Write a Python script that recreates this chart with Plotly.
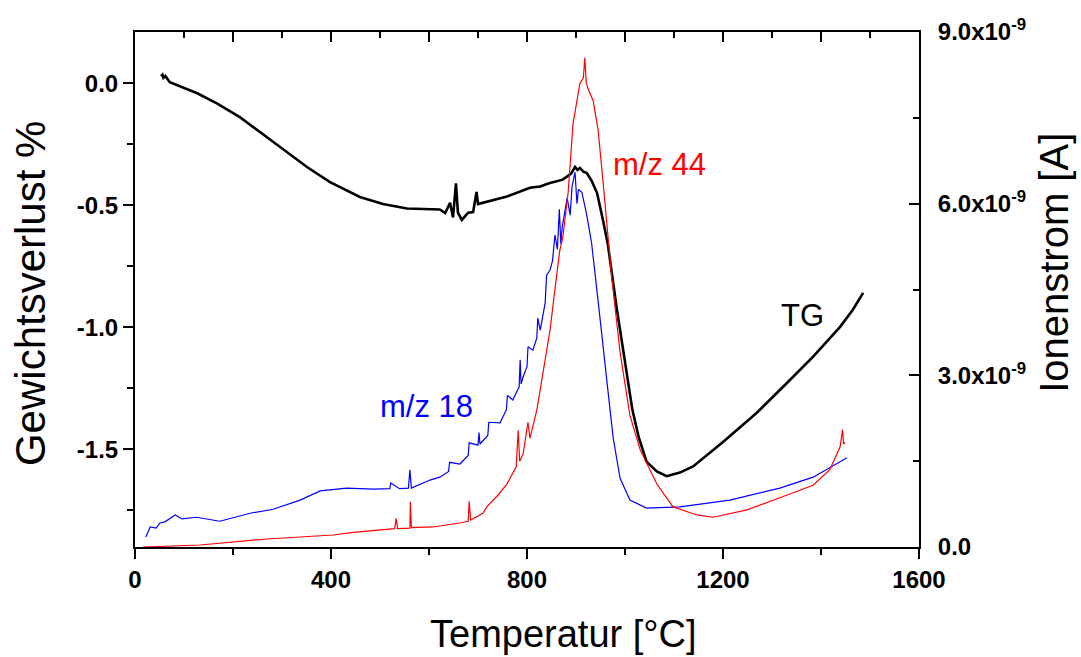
import plotly.graph_objects as go

# ---------------- data ----------------
tg_T = [53, 56, 58, 62, 71, 127, 167, 214, 255, 296, 351, 398, 418, 459, 506, 555, 622,
        633, 643, 649, 655, 659, 667, 680, 690, 697, 700, 739, 759, 806, 827, 845, 873,
        890, 898, 903, 908, 915, 922, 932, 943, 955, 965, 983, 1000, 1015, 1028, 1044,
        1065, 1085, 1112, 1139, 1200, 1269, 1331, 1384, 1439, 1465, 1486]
tg_V = [0.029, 0.035, 0.022, 0.030, 0.004, -0.041, -0.082, -0.139, -0.200, -0.260, -0.343,
        -0.405, -0.425, -0.466, -0.495, -0.513, -0.517,
        -0.532, -0.490, -0.550, -0.410, -0.530, -0.560, -0.530, -0.528, -0.445, -0.495,
        -0.474, -0.464, -0.428, -0.423, -0.410, -0.395,
        -0.370, -0.343, -0.355, -0.347, -0.362, -0.368, -0.400, -0.450, -0.560, -0.660,
        -0.920, -1.145, -1.337, -1.450, -1.550, -1.590, -1.610, -1.595, -1.570, -1.470,
        -1.350, -1.227, -1.120, -0.998, -0.928, -0.859]

ms18_T = [22, 31, 43, 51, 61, 82, 96, 126, 173, 235, 282, 337, 378, 432, 486, 520, 522,
          540, 558, 561, 564, 602, 622, 640, 642, 663, 680, 682, 700, 702, 704, 720, 722,
          745, 758, 760, 771, 784, 786, 788, 792, 800, 802, 812, 820, 822, 827, 837, 840,
          847, 852, 857, 862, 866, 869, 872, 882, 888, 892, 898, 902, 905, 912, 918, 922,
          932, 943, 949, 963, 976, 990, 1010, 1044, 1112, 1214, 1316, 1384, 1453]
ms18_I = [0.175, 0.35, 0.33, 0.42, 0.44, 0.56, 0.49, 0.52, 0.45, 0.59, 0.66, 0.82, 0.98,
          1.03, 1.01, 1.02, 1.12, 1.02, 1.03, 1.35, 1.03, 1.17, 1.22, 1.32, 1.48, 1.45,
          1.60, 1.82, 1.78, 2.00, 1.80, 1.95, 2.18, 2.17, 2.40, 2.65, 2.57, 2.80, 3.27,
          2.85, 2.97, 3.15, 3.50, 3.44, 3.65, 4.00, 3.79, 4.26, 4.75, 4.84, 5.00, 5.45,
          5.20, 5.90, 5.30, 5.60, 6.10, 5.80, 6.30, 6.55, 6.00, 6.25, 6.20, 5.95, 5.80,
          5.30, 4.50, 4.00, 2.90, 1.90, 1.20, 0.82, 0.68, 0.70, 0.82, 1.03, 1.22, 1.56]

ms44_T = [16, 133, 269, 404, 450, 506, 530, 533, 536, 561, 562, 564, 608, 663, 680, 682,
          685, 710, 718, 740, 759, 778, 782, 785, 792, 802, 806, 820, 833, 847, 857, 867,
          873, 884, 894, 908, 915, 918, 921, 925, 935, 945, 955, 963, 973, 990, 1010, 1031,
          1065, 1098, 1147, 1180, 1249, 1316, 1384, 1418, 1439, 1444, 1446, 1449]
ms44_I = [0.0, 0.035, 0.14, 0.21, 0.26, 0.30, 0.32, 0.50, 0.32, 0.33, 0.79, 0.34, 0.35,
          0.42, 0.45, 0.80, 0.47, 0.59, 0.70, 0.90, 1.10, 1.40, 2.04, 1.50, 1.62, 2.18,
          1.90, 2.39, 3.09, 3.79, 4.50, 5.19,
          5.40, 6.20, 7.40, 8.10, 8.20, 8.55, 8.10, 8.00, 7.80, 7.30, 6.40, 5.70, 4.70,
          3.40, 2.30, 1.70, 1.10, 0.70, 0.56, 0.52, 0.65, 0.86, 1.08, 1.35, 1.75, 2.05,
          1.80, 1.83]

x_ticks = [0, 400, 800, 1200, 1600]
x_labels = ["0", "400", "800", "1200", "1600"]
left_ticks = [0.0, -0.5, -1.0, -1.5]
left_labels = ["0.0", "-0.5", "-1.0", "-1.5"]
right_ticks = [0.0, 3e-9, 6e-9, 9e-9]
right_labels = ["0.0", "3.0x10<sup>-9</sup>", "6.0x10<sup>-9</sup>", "9.0x10<sup>-9</sup>"]

FONT = "Liberation Sans"
TICKFONT = dict(size=24, family=FONT, color="black")


def bold(labels):
    return ["<b>%s</b>" % s for s in labels]


fig = go.Figure()
fig.add_trace(go.Scatter(x=ms18_T, y=[v * 1e-9 for v in ms18_I], mode="lines",
                         line=dict(color="#0000ff", width=1.2), yaxis="y2",
                         name="m/z 18", hoverinfo="skip"))
fig.add_trace(go.Scatter(x=ms44_T, y=[v * 1e-9 for v in ms44_I], mode="lines",
                         line=dict(color="#ff0000", width=1.2), yaxis="y2",
                         name="m/z 44", hoverinfo="skip"))
fig.add_trace(go.Scatter(x=tg_T, y=tg_V, mode="lines",
                         line=dict(color="black", width=2.6), name="TG", hoverinfo="skip"))
# helper trace so the mirrored top axis is drawn
fig.add_trace(go.Scatter(x=[None], y=[None], xaxis="x2", yaxis="y", showlegend=False,
                         hoverinfo="skip"))

axis_common = dict(showline=True, linecolor="black", linewidth=2, showgrid=False,
                   zeroline=False, tickcolor="black", tickwidth=2)

fig.update_layout(
    width=1081, height=657,
    margin=dict(l=135, r=162, t=32, b=110),
    paper_bgcolor="white", plot_bgcolor="white",
    showlegend=False,
    font=dict(family=FONT, color="black"),
    xaxis=dict(range=[0, 1600], tickvals=x_ticks, ticktext=bold(x_labels),
               ticks="outside", ticklen=10,
               minor=dict(tick0=0, dtick=200, ticks="outside", ticklen=6,
                          tickwidth=2, tickcolor="black"),
               tickfont=TICKFONT, **axis_common),
    xaxis2=dict(range=[0, 1600], overlaying="x", side="top", anchor="y",
                tick0=0, dtick=200, ticks="inside", ticklen=10, showticklabels=False,
                minor=dict(tick0=0, dtick=100, ticks="inside", ticklen=6,
                           tickwidth=2, tickcolor="black"),
                **axis_common),
    yaxis=dict(range=[-1.9, 0.21], tickvals=left_ticks, ticktext=bold(left_labels),
               ticks="outside", ticklen=10,
               minor=dict(tick0=0, dtick=0.25, ticks="outside", ticklen=6,
                          tickwidth=2, tickcolor="black"),
               tickfont=TICKFONT, **axis_common),
    yaxis2=dict(range=[0, 9e-9], overlaying="y", side="right", anchor="x",
                tickvals=right_ticks, ticktext=bold(right_labels),
                ticks="inside", ticklen=10, ticklabelstandoff=12,
                minor=dict(tick0=0, dtick=1.5e-9, ticks="inside", ticklen=6,
                           tickwidth=2, tickcolor="black"),
                tickfont=TICKFONT, **axis_common),
    annotations=[
        dict(x=0.547, y=-0.169, xref="paper", yref="paper", text="Temperatur [°C]",
             xanchor="center", yanchor="middle",
             showarrow=False, font=dict(size=38, family=FONT, color="black")),
        dict(x=-0.134, y=0.493, xref="paper", yref="paper", text="Gewichtsverlust %",
             xanchor="center", yanchor="middle",
             textangle=-90, showarrow=False, font=dict(size=42, family=FONT, color="black")),
        dict(x=1.173, y=0.551, xref="paper", yref="paper", text="Ionenstrom [A]",
             xanchor="center", yanchor="middle",
             textangle=-90, showarrow=False, font=dict(size=40, family=FONT, color="black")),
        dict(x=1071, y=6.68e-9, xref="x", yref="y2", text="m/z 44", showarrow=False,
             xanchor="center", yanchor="middle",
             font=dict(size=31, color="#ff0000", family=FONT)),
        dict(x=594, y=2.45e-9, xref="x", yref="y2", text="m/z 18", showarrow=False,
             xanchor="center", yanchor="middle",
             font=dict(size=31, color="#0000ff", family=FONT)),
        dict(x=1363, y=-0.953, xref="x", yref="y", text="TG", showarrow=False,
             xanchor="center", yanchor="middle",
             font=dict(size=31, color="black", family=FONT)),
    ],
)

fig.write_html("out.html", config={"displayModeBar": False},
               post_script="document.body.style.margin='0px';"
                           "document.body.style.overflow='hidden';")
